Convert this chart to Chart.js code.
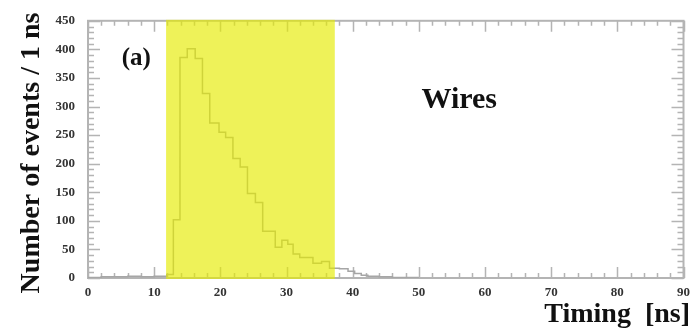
<!DOCTYPE html>
<html>
<head>
<meta charset="utf-8">
<script src="https://cdn.jsdelivr.net/npm/chart.js@4"></script>
<style>
  html, body { margin: 0; padding: 0; background: #fff; }
  #wrap { width: 697px; height: 329px; }
</style>
</head>
<body>
<div id="wrap"><canvas id="timingChart"></canvas></div>
<script>
// bin edges (ns) and counts per bin
const binEdges = [0, 2, 4, 6, 8, 10, 11.9, 12.9, 13.9, 15.0, 16.2, 17.3, 18.4, 19.8, 20.8, 21.9,
    23.0, 24.1, 25.3, 26.4, 28.3, 29.3, 30.2, 31.0, 32.0, 34.0, 35.3, 36.5, 38.0, 39.3, 40.3,
    41.3, 42.3, 44, 46, 50];
const counts = [1, 2, 2, 3, 2, 3, 6, 102, 386, 401, 384, 323, 271, 255, 246, 209,
    194, 148, 132, 82, 54, 66, 59, 42, 36, 26, 29, 17, 16, 12, 8,
    5, 3, 2, 1];
const xTicks = [0, 10, 20, 30, 40, 50, 60, 70, 80, 90];
const yTicks = [0, 50, 100, 150, 200, 250, 300, 350, 400, 450];
const bandRange = [11.8, 37.3];

const serif = "'Liberation Serif', 'DejaVu Serif', serif";

document.addEventListener('DOMContentLoaded', function() {
    const ctx = document.getElementById('timingChart').getContext('2d');

    // step points: value of each bin starts at its left edge
    const points = binEdges.map((e, i) => ({ x: e, y: counts[Math.min(i, counts.length - 1)] }));

    // ROOT style frame with inward ticks on all four sides
    const framePlugin = {
        id: 'frame',
        beforeDatasetsDraw(chart) {
            const c = chart.ctx, a = chart.chartArea;
            const xs = chart.scales.x, ys = chart.scales.y;
            c.save();
            c.strokeStyle = '#b4b4b4';
            c.lineWidth = 2;
            c.strokeRect(a.left, a.top, a.right - a.left, a.bottom - a.top);
            c.lineWidth = 1.5;
            c.beginPath();
            for (let v = xTicks[0]; v <= xTicks[xTicks.length - 1]; v += 2) {
                const px = Math.round(xs.getPixelForValue(v)) + 0.5;
                const len = v % 10 === 0 ? 11 : 5;
                c.moveTo(px, a.bottom); c.lineTo(px, a.bottom - len);
                c.moveTo(px, a.top); c.lineTo(px, a.top + len);
            }
            for (let v = yTicks[0]; v <= yTicks[yTicks.length - 1]; v += 10) {
                const py = Math.round(ys.getPixelForValue(v)) + 0.5;
                const len = v % 50 === 0 ? 12 : 6;
                c.moveTo(a.left, py); c.lineTo(a.left + len, py);
                c.moveTo(a.right, py); c.lineTo(a.right - len, py);
            }
            c.stroke();
            c.restore();
        },
        afterDatasetsDraw(chart) {
            const c = chart.ctx, a = chart.chartArea;
            const xs = chart.scales.x, ys = chart.scales.y;
            const x0 = xs.getPixelForValue(bandRange[0]);
            const x1 = xs.getPixelForValue(bandRange[1]);
            c.save();
            c.fillStyle = 'rgba(229, 235, 0, 0.65)';
            c.fillRect(x0, a.top - 1, x1 - x0, a.bottom - a.top + 2);
            // labels inside the pad
            c.fillStyle = '#111';
            c.textBaseline = 'alphabetic';
            c.font = 'bold 25px ' + serif;
            c.fillText('(a)', xs.getPixelForValue(5.1), ys.getPixelForValue(373));
            c.font = 'bold 30px ' + serif;
            c.fillText('Wires', xs.getPixelForValue(50.4), ys.getPixelForValue(297));
            c.restore();
        },
        afterDraw(chart) {
            const c = chart.ctx;
            c.save();
            c.fillStyle = '#111';
            c.font = 'bold 28px ' + serif;
            c.textBaseline = 'alphabetic';
            c.textAlign = 'right';
            c.fillText('Timing  [ns]', 690, 322);
            c.translate(39, 153);
            c.rotate(-Math.PI / 2);
            c.textAlign = 'center';
            c.fillText('Number of events / 1 ns', 0, 0);
            c.restore();
        }
    };

    new Chart(ctx, {
        type: 'line',
        data: {
            datasets: [{
                data: points,
                stepped: true,
                borderColor: '#a6a6a6',
                borderWidth: 1.5,
                pointRadius: 0,
                fill: false
            }]
        },
        options: {
            responsive: true,
            maintainAspectRatio: false,
            animation: false,
            layout: { padding: { left: 0, right: 9, top: 15, bottom: 0 } },
            plugins: { legend: { display: false }, tooltip: { enabled: false } },
            scales: {
                x: {
                    type: 'linear',
                    min: 0,
                    max: 90,
                    afterFit: s => { s.height = 51; },
                    afterBuildTicks: s => { s.ticks = xTicks.map(v => ({ value: v })); },
                    grid: { display: false, drawTicks: false },
                    border: { display: false },
                    ticks: {
                        padding: 7,
                        color: '#333',
                        font: { family: serif, size: 13, weight: 'bold' }
                    }
                },
                y: {
                    min: 0,
                    max: 450,
                    afterFit: s => { s.width = 88; },
                    afterBuildTicks: s => { s.ticks = yTicks.map(v => ({ value: v })); },
                    grid: { display: false, drawTicks: false },
                    border: { display: false },
                    ticks: {
                        padding: 13,
                        color: '#333',
                        font: { family: serif, size: 13, weight: 'bold' }
                    }
                }
            }
        },
        plugins: [framePlugin]
    });
});
</script>
</body>
</html>
